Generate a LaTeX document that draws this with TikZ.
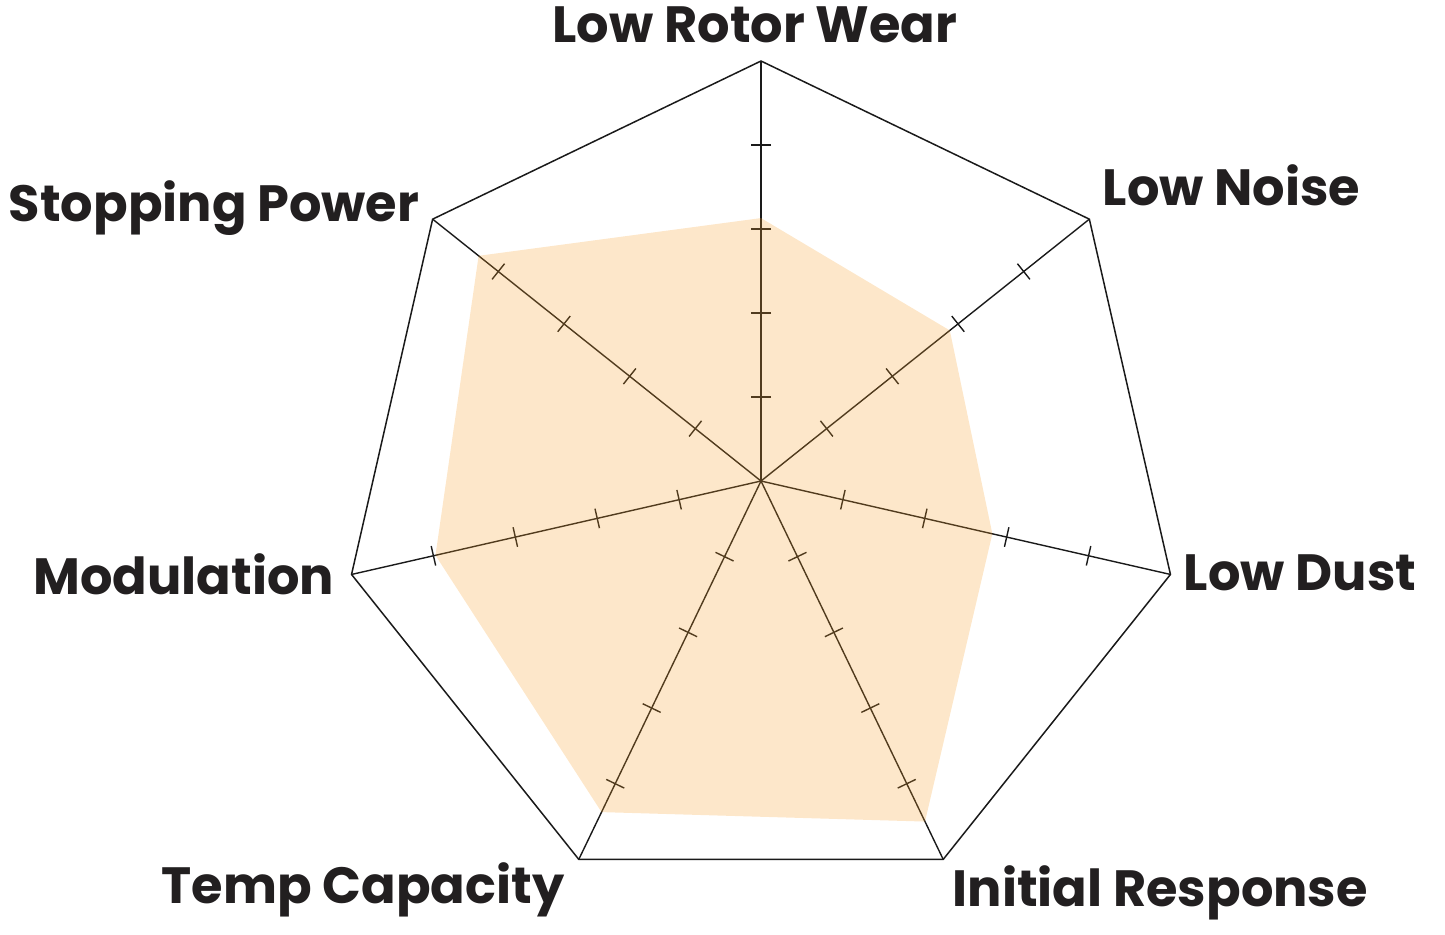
\documentclass[tikz,border=0pt]{standalone}
\usepackage{fontspec}
\setmainfont{Poppins}
\definecolor{radarfill}{RGB}{247,160,42}
\definecolor{radarline}{RGB}{26,26,26}
\definecolor{labeltext}{RGB}{34,31,32}
\tikzset{
  axis/.style={draw=radarline, line width=0.7pt},
  frame/.style={draw=radarline, line width=0.75pt, line join=miter},
  lbl/.style={inner sep=0pt, text=labeltext, font=\fontsize{25.5}{30}\selectfont\bfseries}
}

\begin{document}
\begin{tikzpicture}[x=0.5pt, y=0.5pt]
      \useasboundingbox (-761,-453) rectangle (684,481);
      \coordinate (c) at (0,0);
      \foreach \i in {1,...,7}
        \coordinate (v\i) at ({90-(\i-1)*360/7}:420);

      % axes with ticks
      \foreach \i in {1,...,7} {
        \draw[axis] (c) -- (v\i);
        \foreach \r in {84,168,252,336}
          \draw[axis, rotate={90-(\i-1)*360/7}] (\r,-10) -- (\r,10);
      }
      \draw[frame] (v1) -- (v2) -- (v3) -- (v4) -- (v5) -- (v6) -- (v7) -- cycle;

      % data
      \foreach \v [count=\i] in {0.626,0.575,0.565,0.90,0.875,0.795,0.86}
        \coordinate (d\i) at ({90-(\i-1)*360/7}:{420*\v});
      \fill[radarfill, fill opacity=0.25] (d1) -- (d2) -- (d3) -- (d4) -- (d5) -- (d6) -- (d7) -- cycle;

      \node[lbl, anchor=base] (wear) at ([shift={(-6,19)}]v1) {Low Rotor Wear};
      \node[lbl, anchor=base west] (noise) at ([shift={(13,14)}]v2) {Low Noise};
      \node[lbl, anchor=base west] (dust) at ([shift={(13,-16)}]v3) {Low Dust};
      \node[lbl, anchor=base west] (response) at ([shift={(9,-47)}]v4) {Initial Response};
      \node[lbl, anchor=base east] (temp) at ([shift={(-14,-44)}]v5) {Temp Capacity};
      \node[lbl, anchor=base east] (modulation) at ([shift={(-17,-20)}]v6) {Modulation};
      \node[lbl, anchor=base east] (stopping) at ([shift={(-13,-2)}]v7) {Stopping Power};
    \end{tikzpicture}
\end{document}
